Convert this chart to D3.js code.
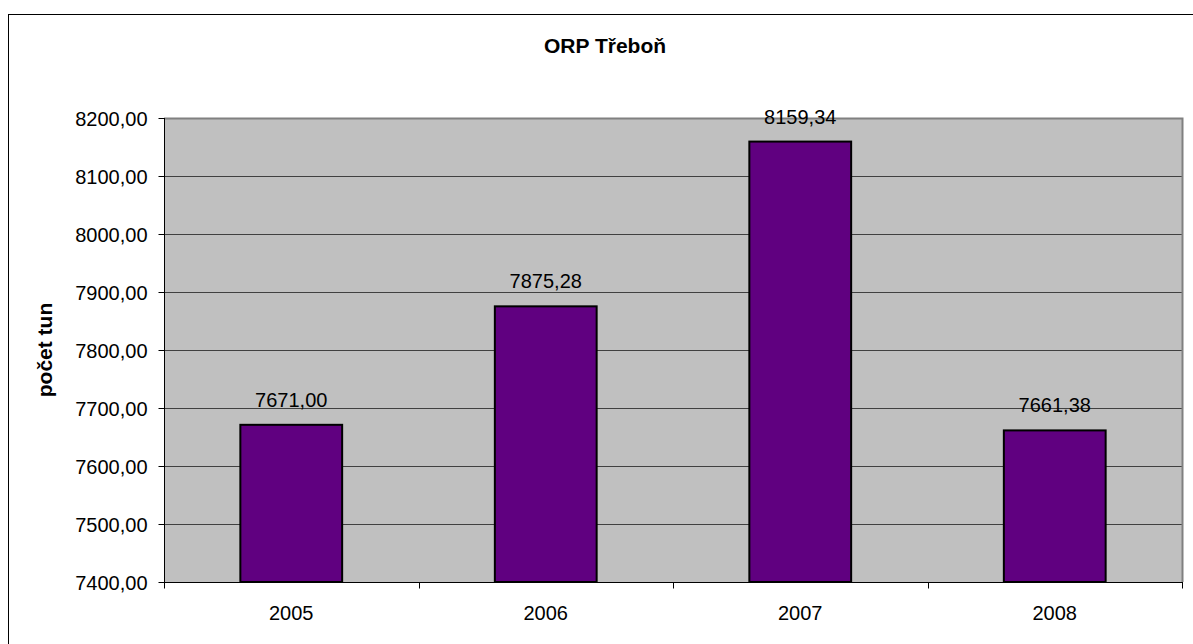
<!DOCTYPE html>
<html>
<head>
<meta charset="utf-8">
<script src="https://cdn.jsdelivr.net/npm/d3@7"></script>
<style>
  html, body { margin: 0; padding: 0; background: #fff; }
  svg { display: block; }
  text { font-family: "Liberation Sans", Arial, sans-serif; fill: #000; }
</style>
</head>
<body>
<svg id="chart" width="1193" height="644"></svg>
<script>
// Waste quantities per year, ORP Třeboň
const years = ["2005", "2006", "2007", "2008"];
const values = [7671.00, 7875.28, 8159.34, 7661.38];
const yTicks = [7400, 7500, 7600, 7700, 7800, 7900, 8000, 8100, 8200];
const titleText = "ORP Třeboň";
const yAxisTitle = "počet tun";

const fmt = v => v.toFixed(2).replace(".", ",");

const svg = d3.select("#chart");

// Outer chart frame
svg.append("rect")
  .attr("x", 8.5).attr("y", 14.5)
  .attr("width", 1200).attr("height", 700)
  .attr("fill", "#fff").attr("stroke", "#000").attr("stroke-width", 1);

const plot = { left: 164, right: 1182, top: 118, bottom: 582 };

const x = d3.scaleBand().domain(years).range([plot.left, plot.right]).paddingInner(0.6).paddingOuter(0.3);
const xCat = d3.scaleBand().domain(years).range([plot.left, plot.right]);
const y = d3.scaleLinear().domain([7400, 8200]).range([plot.bottom, plot.top]);

// Plot background
svg.append("rect")
  .attr("x", plot.left).attr("y", plot.top)
  .attr("width", plot.right - plot.left).attr("height", plot.bottom - plot.top)
  .attr("fill", "#c0c0c0");

// Horizontal gridlines
svg.append("g").selectAll("line")
  .data(yTicks.slice(1))
  .join("line")
  .attr("x1", plot.left).attr("x2", plot.right)
  .attr("y1", d => Math.round(y(d)) + 0.5).attr("y2", d => Math.round(y(d)) + 0.5)
  .attr("stroke", "#404040").attr("stroke-width", 1);

// Plot area border (gray top/right edges)
svg.append("path")
  .attr("d", `M${plot.left},${plot.top + 0.5}H${plot.right + 0.5}V${plot.bottom}`)
  .attr("fill", "none").attr("stroke", "#808080").attr("stroke-width", 2);

// Bars
svg.append("g").selectAll("rect")
  .data(values)
  .join("rect")
  .attr("x", (d, i) => x(years[i]))
  .attr("y", d => y(d))
  .attr("width", x.bandwidth())
  .attr("height", d => plot.bottom - y(d))
  .attr("fill", "#600080")
  .attr("stroke", "#000").attr("stroke-width", 2);

// Value labels
svg.append("g").selectAll("text")
  .data(values)
  .join("text")
  .attr("x", (d, i) => x(years[i]) + x.bandwidth() / 2)
  .attr("y", d => y(d) - 18)
  .attr("text-anchor", "middle")
  .style("font-size", "20px")
  .text(d => fmt(d));

// Y axis
const yAxis = d3.axisLeft(y).tickValues(yTicks).tickSize(6).tickPadding(11).tickFormat(fmt);
const gy = svg.append("g").attr("transform", `translate(${plot.left + 0.5},0)`).call(yAxis);
gy.select(".domain").attr("stroke", "#000").attr("d", `M0,${plot.top}V${plot.bottom}`);
gy.selectAll(".tick line").attr("stroke", "#000");
gy.selectAll(".tick text").style("font-size", "20px").attr("font-family", null).attr("dy", "0.35em");

// X axis with ticks at category boundaries
const gx = svg.append("g").attr("transform", `translate(0,${plot.bottom + 0.5})`);
gx.append("line").attr("x1", plot.left).attr("x2", plot.right + 1)
  .attr("stroke", "#000").attr("stroke-width", 1);
const bounds = years.map(d => xCat(d)).concat([plot.right]);
gx.selectAll("line.tk").data(bounds).join("line").attr("class", "tk")
  .attr("x1", d => Math.round(d) + 0.5).attr("x2", d => Math.round(d) + 0.5)
  .attr("y1", 0).attr("y2", 6).attr("stroke", "#000");
gx.selectAll("text").data(years).join("text")
  .attr("x", d => xCat(d) + xCat.bandwidth() / 2)
  .attr("y", 37)
  .attr("text-anchor", "middle")
  .style("font-size", "20px")
  .text(d => d);

// Title
svg.append("text")
  .attr("x", 605).attr("y", 53)
  .attr("text-anchor", "middle")
  .style("font-size", "21px").style("font-weight", "bold")
  .text(titleText);

// Y axis title
svg.append("text")
  .attr("transform", `translate(52,${(plot.top + plot.bottom) / 2}) rotate(-90)`)
  .attr("text-anchor", "middle")
  .style("font-size", "21px").style("font-weight", "bold")
  .text(yAxisTitle);
</script>
</body>
</html>
